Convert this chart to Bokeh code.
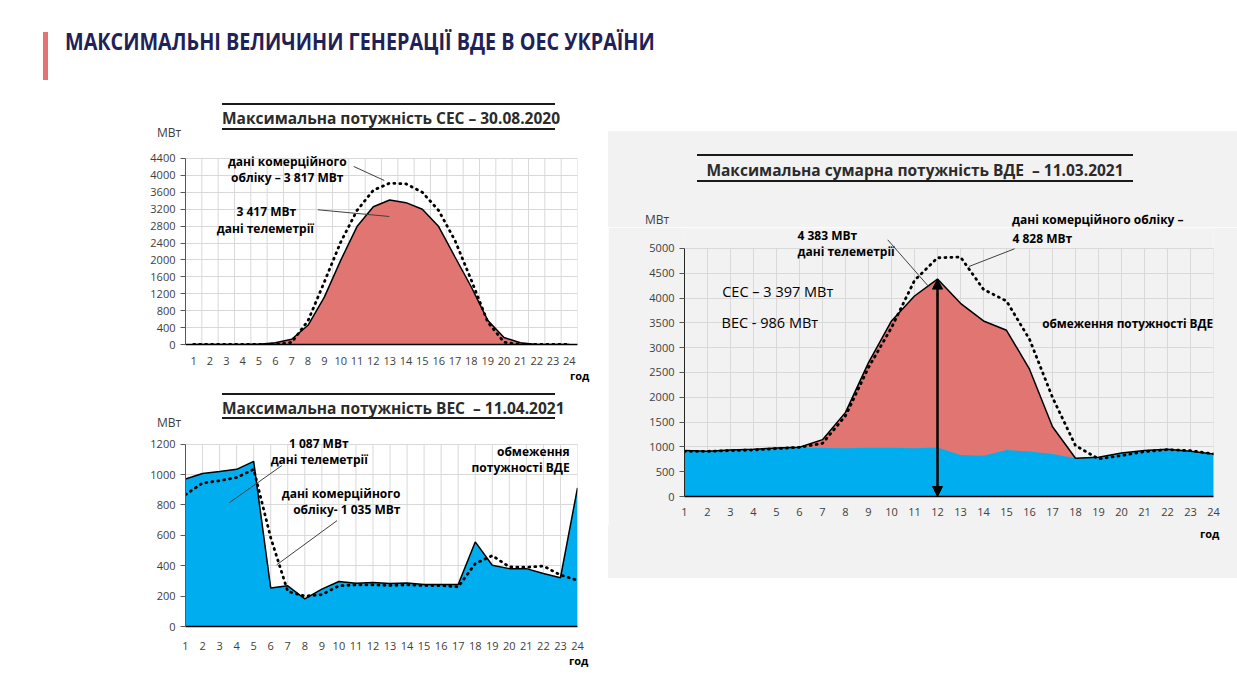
from bokeh.plotting import figure
from bokeh.models import (ColumnDataSource, FixedTicker, Label, Arrow, NormalHead,
                          Div, Spacer, Range1d)
from bokeh.layouts import column, row
from bokeh.embed import file_html
from bokeh.resources import INLINE

# ---------------- data ----------------
hours = list(range(1, 25))

# Chart 1: solar (СЕС) 30.08.2020
ses_telemetry = [0, 0, 0, 0, 5, 40, 125, 455, 1120, 1990, 2790, 3260,
                 3417, 3355, 3200, 2790, 2070, 1360, 575, 165, 40, 0, 0, 0]
ses_commercial = [0, 0, 0, 0, 0, 0, 50, 560, 1480, 2420, 3170, 3650,
                  3817, 3800, 3600, 3170, 2460, 1520, 535, 55, 0, 0, 0, 0]
ses_yticks = list(range(0, 4401, 400))

# Chart 2: wind (ВЕС) 11.04.2021
wind_telemetry = [971, 1007, 1020, 1035, 1087, 253, 268, 182, 246, 296, 285, 289,
                  283, 287, 276, 276, 276, 557, 403, 381, 381, 349, 321, 913]
wind_commercial = [868, 945, 960, 981, 1035, 585, 231, 200, 210, 268, 274, 274,
                   270, 274, 270, 270, 261, 414, 467, 392, 390, 398, 339, 304]
wind_yticks = list(range(0, 1201, 200))

# Chart 3: total RES (ВДЕ) 11.03.2021
vde_wind = [925, 911, 938, 952, 978, 978, 978, 972, 985, 985, 972, 986,
            838, 824, 938, 905, 858, 770, 790, 871, 911, 938, 905, 858]
vde_total = [925, 911, 938, 952, 978, 992, 1146, 1696, 2700, 3539, 4042, 4383,
             3894, 3539, 3351, 2567, 1407, 771, 790, 878, 925, 952, 911, 858]
vde_commercial = [911, 911, 925, 938, 965, 992, 1072, 1628, 2600, 3405, 4356, 4812,
                  4828, 4175, 3940, 3170, 1997, 1025, 757, 824, 905, 945, 925, 858]
vde_yticks = list(range(0, 5001, 500))

RED = "#E07572"
BLUE = "#00AEEF"
FONT = "Open Sans"
GRID = "#D9D9D9"
GRAY = "#F2F2F2"


def style_axes(p, yticks, bg="white"):
    p.background_fill_color = bg
    p.border_fill_color = bg
    p.outline_line_color = None
    for ax in (p.xaxis, p.yaxis):
        ax.major_label_text_font = FONT
        ax.major_label_text_font_size = "11px"
        ax.major_label_text_color = "#404040"
        ax.minor_tick_line_color = None
    p.xaxis.ticker = FixedTicker(ticks=hours)
    p.xaxis.major_tick_line_color = None
    p.xaxis.axis_line_color = "black"
    p.xaxis.axis_line_width = 1.3
    p.xaxis.major_label_standoff = 6
    p.yaxis.ticker = FixedTicker(ticks=yticks)
    p.yaxis.bounds = (yticks[0], yticks[-1])
    p.yaxis.axis_line_color = "#595959"
    p.yaxis.major_tick_line_color = "#595959"
    p.yaxis.major_tick_out = 5
    p.yaxis.major_tick_in = 0
    p.yaxis.major_label_standoff = 5
    p.xgrid.visible = False
    p.ygrid.ticker = FixedTicker(ticks=yticks)
    p.ygrid.grid_line_color = GRID


def vgrid(p, xs, ytop):
    p.segment(x0=xs, y0=[0] * len(xs), x1=xs, y1=[ytop] * len(xs),
              line_color=GRID, line_width=1)


def lab(p, x, y, text, size="12px", bold=True, align="left", color="black"):
    p.add_layout(Label(x=x, y=y, text=text, text_font=FONT, text_font_size=size,
                       text_font_style="bold" if bold else "normal",
                       text_align=align, text_baseline="middle", text_color=color))


def leader(p, x0, y0, x1, y1):
    p.add_layout(Arrow(end=None, x_start=x0, y_start=y0, x_end=x1, y_end=y1,
                       line_color="#404040", line_width=1))


def txt(left, cy, text, size=12, bold=True, color="black", lh=16):
    return (f'<div style="position:absolute;left:{left}px;top:{cy - lh / 2}px;height:{lh}px;'
            f'line-height:{lh}px;font-family:\'{FONT}\';font-size:{size}px;'
            f'font-weight:{700 if bold else 400};color:{color};white-space:pre;">{text}</div>')


def title_block(text, left, top, width, inner_h, size=15.5):
    return (f'<div style="position:absolute;left:{left}px;top:{top}px;width:{width}px;'
            f'height:{inner_h}px;line-height:{inner_h}px;border-top:2px solid #1a1a1a;'
            f'border-bottom:2px solid #1a1a1a;text-align:center;font-family:\'{FONT}\';'
            f'font-weight:700;font-size:{size}px;color:#2b2b2b;white-space:pre;">{text}</div>')


def box(width, height, parts, bg="white"):
    html = (f'<div style="position:relative;width:{width}px;height:{height}px;'
            f'background:{bg};overflow:visible;">' + "".join(parts) + '</div>')
    return Div(text=html, width=width, height=height, margin=0,
               styles={"background-color": bg, "margin": "0", "padding": "0"})


# ---------------- header ----------------
header = box(1237, 95, [
    '<div style="position:absolute;left:43px;top:32px;width:5px;height:48px;background:#E57373;"></div>',
    f'<div style="position:absolute;left:65px;top:26px;line-height:31px;font-family:\'{FONT}\';'
    'font-weight:700;font-size:23px;color:#1F2258;white-space:nowrap;transform:scaleX(0.86);'
    'transform-origin:0 50%;">МАКСИМАЛЬНІ ВЕЛИЧИНИ ГЕНЕРАЦІЇ ВДЕ В ОЕС УКРАЇНИ</div>',
])

# ---------------- chart 1 ----------------
src1 = ColumnDataSource(dict(h=hours, tel=ses_telemetry, com=ses_commercial))
p1 = figure(width=608, height=226, x_range=Range1d(0.5, 24.5), y_range=Range1d(0, 4589),
            min_border_left=184, min_border_right=31, min_border_top=9, min_border_bottom=23,
            toolbar_location=None, output_backend="svg")
style_axes(p1, ses_yticks)
vgrid(p1, [h - 0.5 for h in hours] + [hours[-1] + 0.5], ses_yticks[-1])
p1.varea(x="h", y1=0, y2="tel", source=src1, fill_color=RED)
p1.line(x="h", y="tel", source=src1, line_color="black", line_width=1.5)
p1.line(x="h", y="com", source=src1, line_color="black", line_width=2.8,
        line_dash="1 5", line_cap="round")
lab(p1, 6.73, 4337, "дані комерційного", align="center")
lab(p1, 6.73, 3958, "обліку – 3 817 МВт", align="center")
lab(p1, 5.45, 3154, "3 417 МВт", align="center")
lab(p1, 5.39, 2745, "дані телеметрії", align="center")
leader(p1, 10.80, 4211, 12.67, 3880)
leader(p1, 8.60, 3187, 12.98, 3028)

# ---------------- chart 2 ----------------
src2 = ColumnDataSource(dict(h=hours, tel=wind_telemetry, com=wind_commercial))
p2 = figure(width=608, height=220, x_range=Range1d(1, 24), y_range=Range1d(0, 1251),
            min_border_left=185, min_border_right=29, min_border_top=4, min_border_bottom=21,
            toolbar_location=None, output_backend="svg")
style_axes(p2, wind_yticks)
vgrid(p2, hours, wind_yticks[-1])
p2.xaxis.major_label_standoff = 9
p2.varea(x="h", y1=0, y2="tel", source=src2, fill_color=BLUE)
p2.line(x="h", y="tel", source=src2, line_color="black", line_width=1.5)
p2.line(x="h", y="com", source=src2, line_color="black", line_width=2.8,
        line_dash="1 5", line_cap="round")
lab(p2, 8.82, 1204, "1 087 МВт", align="center")
lab(p2, 8.85, 1097, "дані телеметрії", align="center")
lab(p2, 13.61, 877, "дані комерційного", align="right")
lab(p2, 13.61, 771, "обліку- 1 035 МВт", align="right")
lab(p2, 23.54, 1155, "обмеження", align="right")
lab(p2, 23.54, 1048, "потужності ВДЕ", align="right")
leader(p2, 6.645, 1059, 3.569, 815)
leader(p2, 9.89, 697, 6.35, 406)

# ---------------- chart 3 ----------------
src3 = ColumnDataSource(dict(h=hours, wind=vde_wind, tot=vde_total, com=vde_commercial))
p3 = figure(width=629, height=298, x_range=Range1d(1, 24), y_range=Range1d(0, 5403),
            min_border_left=76, min_border_right=24, min_border_top=1, min_border_bottom=29,
            toolbar_location=None, output_backend="svg")
style_axes(p3, vde_yticks, bg=GRAY)
vgrid(p3, hours, vde_yticks[-1])
p3.yaxis.axis_line_color = "#262626"
p3.xaxis.major_label_standoff = 5
p3.varea(x="h", y1=0, y2="tot", source=src3, fill_color=RED)
p3.varea(x="h", y1=0, y2="wind", source=src3, fill_color=BLUE)
p3.line(x="h", y="tot", source=src3, line_color="black", line_width=1.5)
p3.line(x="h", y="com", source=src3, line_color="black", line_width=2.8,
        line_dash="1 5", line_cap="round")
peak_i = vde_total.index(max(vde_total))
p3.add_layout(Arrow(x_start=hours[peak_i], y_start=vde_total[peak_i], x_end=hours[peak_i], y_end=0,
                    start=NormalHead(size=10, fill_color="black", line_color="black"),
                    end=NormalHead(size=10, fill_color="black", line_color="black"),
                    line_color="black", line_width=2.5))
lab(p3, 5.913, 5255, "4 383 МВт", size="12px")
lab(p3, 5.913, 4930, "дані телеметрії", size="12px")
lab(p3, 15.26, 5207, "4 828 МВт", size="12px")
lab(p3, 2.64, 4139, "СЕС – 3 397 МВт", size="14.5px", bold=False)
lab(p3, 2.61, 3502, "ВЕС - 986 МВт", size="14.5px", bold=False)
lab(p3, 16.55, 3494, "обмеження потужності ВДЕ", size="11.8px")
leader(p3, 9.835, 5175, 11.64, 4220)
leader(p3, 15.35, 4994, 13.37, 4637)

# ---------------- text boxes around the plots ----------------
d1 = box(608, 46, [
    title_block("Максимальна потужність СЕС – 30.08.2020", 222, 8, 333, 27),
    txt(157, 38, "МВт", size=12, bold=False, color="#404040"),
])
d2 = box(608, 65, [
    txt(570, 9, "год", size=11),
    title_block("Максимальна потужність ВЕС  – 11.04.2021", 222, 26, 333, 26),
    txt(157, 56, "МВт", size=12, bold=False, color="#404040"),
])
d4 = box(608, 30, [txt(569, 9, "год", size=11)])
d3 = box(629, 96, [
    title_block("Максимальна сумарна потужність ВДЕ  – 11.03.2021", 89, 23, 436, 28),
    txt(37, 89, "МВт", size=12, bold=False, color="#404040"),
    txt(404, 88.5, "дані комерційного обліку –", size=12, lh=14),
], bg=GRAY)
d5 = box(629, 53, [txt(592, 9, "год", size=11)], bg=GRAY)

left = column(d1, p1, d2, p2, d4)
right = column(Spacer(width=629, height=36), d3, p3, d5)
root = column(header, row(left, right))

open("out.html", "w").write(file_html(root, INLINE))
